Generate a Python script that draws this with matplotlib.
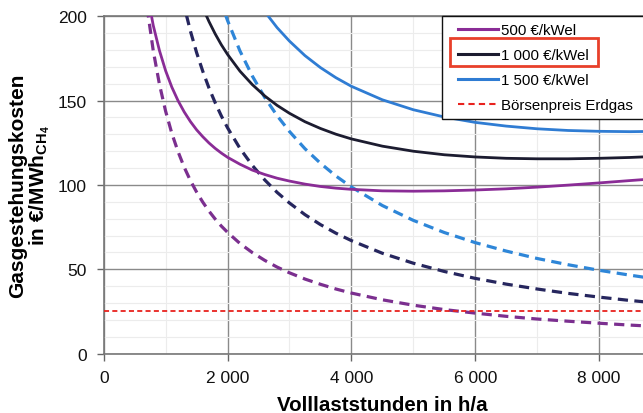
import matplotlib
matplotlib.use("Agg")
import matplotlib.pyplot as plt
from matplotlib.patches import Rectangle
from matplotlib.lines import Line2D
from matplotlib.legend_handler import HandlerLine2D
from matplotlib.ticker import MultipleLocator

plt.rcParams['font.family'] = ['Liberation Sans', 'DejaVu Sans']
plt.rcParams['mathtext.fontset'] = 'custom'
plt.rcParams['mathtext.bf'] = 'Liberation Sans:bold'
plt.rcParams['mathtext.rm'] = 'Liberation Sans'

# ---- data ----
hours = [700, 800, 900, 1000, 1100, 1200, 1300, 1400, 1500, 1600, 1700, 1800, 1900,
         2000, 2200, 2400, 2600, 2800, 3000, 3250, 3500, 3750, 4000, 4500, 5000,
         5500, 6000, 6500, 7000, 7500, 8000, 8500, 8760]

total_500 = [214.1, 194.6, 179.7, 167.7, 158.0, 150.0, 143.3, 137.6, 132.7, 128.6, 124.9,
             121.7, 118.9, 116.4, 112.3, 108.8, 106.2, 104.0, 102.3, 100.5, 99.1, 98.1,
             97.4, 96.5, 96.3, 96.5, 97.0, 97.7, 98.7, 99.9, 101.2, 102.6, 103.3]
total_1000 = [391.2, 349.4, 317.0, 291.1, 270.1, 252.6, 237.9, 225.3, 214.5, 205.1, 196.9,
              189.6, 183.1, 177.4, 167.5, 159.5, 152.8, 147.2, 142.5, 137.5, 133.5, 130.1,
              127.3, 123.0, 120.0, 117.9, 116.6, 115.8, 115.5, 115.5, 115.8, 116.3, 116.7]
total_1500 = [593.7, 525.7, 472.9, 430.7, 396.4, 367.7, 343.6, 323.0, 305.3, 289.8, 276.2,
              264.2, 253.5, 243.9, 227.5, 214.1, 202.8, 193.3, 185.3, 176.7, 169.6, 163.6,
              158.5, 150.5, 144.6, 140.3, 137.1, 134.9, 133.3, 132.3, 131.8, 131.6, 131.7]

capex_500 = [205.3, 179.6, 159.7, 143.7, 130.6, 119.8, 110.5, 102.6, 95.8, 89.8, 84.5,
             79.8, 75.6, 71.9, 65.3, 59.9, 55.3, 51.3, 47.9, 44.2, 41.1, 38.3,
             35.9, 31.9, 28.7, 26.1, 24.0, 22.1, 20.5, 19.2, 18.0, 16.9, 16.4]
capex_1000 = [382.6, 334.8, 297.6, 267.8, 243.5, 223.2, 206.0, 191.3, 178.5, 167.4, 157.5,
              148.8, 140.9, 133.9, 121.7, 111.6, 103.0, 95.6, 89.3, 82.4, 76.5, 71.4,
              67.0, 59.5, 53.6, 48.7, 44.6, 41.2, 38.3, 35.7, 33.5, 31.5, 30.6]
capex_1500 = [564.3, 493.8, 438.9, 395.0, 359.1, 329.2, 303.8, 282.1, 263.3, 246.9, 232.4,
              219.4, 207.9, 197.5, 179.5, 164.6, 151.9, 141.1, 131.7, 121.5, 112.9, 105.3,
              98.8, 87.8, 79.0, 71.8, 65.8, 60.8, 56.4, 52.7, 49.4, 46.5, 45.1]

gas_price = 25
gas_x = [0, 8760]

series_labels = ['500 €/kWel', '1 000 €/kWel', '1 500 €/kWel', 'Börsenpreis Erdgas']
xticks = [0, 2000, 4000, 6000, 8000]
xtick_labels = ['0', '2 000', '4 000', '6 000', '8 000']
yticks = [0, 50, 100, 150, 200]
ytick_labels = ['0', '50', '100', '150', '200']

# ---- styling ----
c500 = '#8a2c96'
c500d = '#7b2f8f'
c1000 = '#1c1c30'
c1000d = '#26265e'
c1500 = '#2f7cd3'
c1500d = '#2e86d8'
cred = '#e8221e'


class OffsetLineHandler(HandlerLine2D):
    """Legend line handler with a blank lead-in before the line sample."""
    def __init__(self, offset_pt, **kw):
        super().__init__(**kw)
        self.offset_pt = offset_pt

    def get_xdata(self, legend, xdescent, ydescent, width, height, fontsize):
        xd = [-xdescent + self.offset_pt, -xdescent + width]
        return xd, [-xdescent + 0.5 * width]


fig = plt.figure(figsize=(6.43, 4.14), dpi=100)
ax = fig.add_axes([0.1613, 0.1435, 0.8387, 0.8147])

ax.set_xlim(0, 8710)
ax.set_ylim(0, 200)

lw_s = 2.0
lw_d = 2.3
dash = (3.2, 2.0)

ax.plot(hours, capex_1500, color=c1500d, lw=lw_d, ls=(0, dash), zorder=3)
ax.plot(hours, capex_1000, color=c1000d, lw=lw_d, ls=(0, dash), zorder=3)
ax.plot(hours, capex_500, color=c500d, lw=lw_d, ls=(0, dash), zorder=3)
ax.plot(gas_x, [gas_price, gas_price], color=cred, lw=1.3, ls=(0, (2.8, 1.8)), zorder=3)
ax.plot(hours, total_1500, color=c1500, lw=lw_s, zorder=4)
ax.plot(hours, total_1000, color=c1000, lw=lw_s, zorder=4)
ax.plot(hours, total_500, color=c500, lw=lw_s, zorder=4)

ax.set_xticks(xticks)
ax.set_xticklabels(xtick_labels)
ax.set_yticks(yticks)
ax.set_yticklabels(ytick_labels)
ax.xaxis.set_minor_locator(MultipleLocator(1000))
ax.yaxis.set_minor_locator(MultipleLocator(10))
ax.tick_params(axis='both', which='major', labelsize=12.5, length=5, width=1,
               color='#666666', direction='out', pad=7, labelcolor='#111111')
ax.tick_params(axis='both', which='minor', length=0)
ax.grid(which='major', color='#8a8a8a', lw=1.0, zorder=1)
ax.grid(which='minor', color='#ececec', lw=0.8, zorder=0)
ax.set_axisbelow(True)

for side in ['left', 'bottom', 'top']:
    ax.spines[side].set_color('#777777')
    ax.spines[side].set_linewidth(1.2)
ax.spines['right'].set_visible(False)

ax.set_xlabel('Volllaststunden in h/a', fontsize=14.8, fontweight='bold')
ax.xaxis.set_label_coords(0.517, -0.167)
ax.xaxis.label.set_va('baseline')
ax.set_ylabel('Gasgestehungskosten\n' + r'in €/MWh$_{\mathbf{CH_4}}$', fontsize=15,
              fontweight='bold', linespacing=1.0, labelpad=4)

handles = [Line2D([], [], color=c500, lw=2.2),
           Line2D([], [], color=c1000, lw=2.2),
           Line2D([], [], color=c1500, lw=2.2),
           Line2D([], [], color=cred, lw=1.5, ls=(0, (3, 2)))]
hmap = {h: OffsetLineHandler(6.0) for h in handles}
leg = ax.legend(handles, series_labels, loc='upper left',
                bbox_to_anchor=(0.6874, 0.5, 0.4, 0.4597), bbox_transform=fig.transFigure,
                mode='expand', handler_map=hmap,
                fontsize=10.8, frameon=True, fancybox=False, framealpha=1,
                edgecolor='#111111', borderpad=0.48, labelspacing=0.74,
                handlelength=3.23, handletextpad=0.2, borderaxespad=0)
leg.get_frame().set_linewidth(1.0)
leg.set_zorder(10)

rect = Rectangle((450 / 643, 1 - 67 / 414), 148 / 643, 28 / 414,
                 transform=fig.transFigure, fill=False, edgecolor='#e8402a',
                 lw=2.0, zorder=20)
fig.patches.append(rect)

fig.savefig('out.png', dpi=100)
